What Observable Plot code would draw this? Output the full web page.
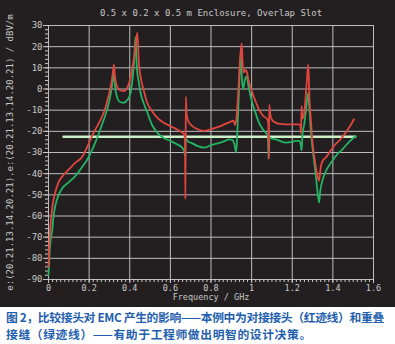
<!DOCTYPE html>
<html><head><meta charset="utf-8">
<script src="https://cdn.jsdelivr.net/npm/d3@7"></script>
<script src="https://cdn.jsdelivr.net/npm/@observablehq/plot@0.6"></script>
<style>
body{margin:0;background:#fff;}
#chart{width:395px;background:#231f20;line-height:0;}
#cap{font-family:"Noto Sans CJK SC";font-weight:bold;color:#1f5fae;font-size:11.8px;line-height:17px;padding:1px 0 0 6px;white-space:nowrap;}
#cap1{letter-spacing:-0.35px;}
#cap2{letter-spacing:0.6px;}
</style></head><body>
<div id="chart"></div>
<div id="cap"><div id="cap1"></div><div id="cap2"></div></div>
<script>
const title = "0.5 x 0.2 x 0.5 m Enclosure, Overlap Slot";
const xLabel = "Frequency / GHz";
const yLabel = "e:(20.21.13.14.20.21).e:(20.21.13.14.20.21) / dBV/m";
const captionLine1 = "图 2，比较接头对 EMC 产生的影响——本例中为对接接头（红迹线）和重叠";
const captionLine2 = "接缝（绿迹线）——有助于工程师做出明智的设计决策。";

const xTicks = [0, 0.2, 0.4, 0.6, 0.8, 1, 1.2, 1.4, 1.6];
const yTicks = [-90, -80, -70, -60, -50, -40, -30, -20, -10, 0, 10, 20, 30];
const xMinor = d3.range(0, 81).map(i => i / 50);
const yMinor = d3.range(-90, 31, 2);

const redFreq = [0,0.003,0.007,0.012,0.02,0.03,0.05,0.075,0.10,0.13,0.166,0.19,0.215,0.24,0.264,0.28,0.296,0.308,0.316,0.322,0.327,0.335,0.35,0.371,0.39,0.405,0.418,0.428,0.437,0.445,0.453,0.47,0.486,0.51,0.535,0.565,0.60,0.63,0.658,0.668,0.672,0.674,0.676,0.680,0.69,0.708,0.735,0.764,0.80,0.823,0.847,0.87,0.895,0.911,0.918,0.925,0.935,0.944,0.951,0.956,0.962,0.968,0.975,0.985,1.003,1.02,1.036,1.055,1.077,1.082,1.084,1.087,1.092,1.10,1.118,1.14,1.167,1.20,1.233,1.24,1.243,1.246,1.25,1.258,1.265,1.272,1.279,1.285,1.292,1.299,1.31,1.322,1.332,1.34,1.35,1.365,1.39,1.414,1.44,1.463,1.485,1.504];
const redLevel = [-84,-75,-68,-62,-55,-50,-44,-40.5,-38,-35,-32,-27.5,-22,-17.5,-13,-9,-3,2,7,11.5,6,2,-0.5,-1,1,6,13,20,26.5,12,6,-1,-6.5,-10.5,-13.5,-15.8,-17.5,-19,-20.6,-21.5,-24,-52,-3.6,-12,-15.5,-17.5,-19,-19.8,-19,-18.3,-17.5,-16.5,-15.5,-15,-17,-14,0,15,21.5,12,7.7,9,8.5,4,-1.7,-6,-9.6,-12.5,-14.3,-16,-33,-7.5,-12,-14.5,-15.9,-16.5,-16.7,-16.7,-16.7,-17.5,-21,-8,-14,-12,-5,4,11.6,-5,-15,-24.5,-33,-40,-43.4,-37,-34,-32.4,-29,-26,-23.5,-20.6,-17.5,-14.3];

const greenFreq = [0,0.005,0.012,0.018,0.025,0.034,0.05,0.067,0.10,0.133,0.165,0.199,0.225,0.248,0.27,0.289,0.305,0.315,0.322,0.327,0.335,0.35,0.37,0.39,0.404,0.415,0.422,0.428,0.435,0.445,0.453,0.47,0.486,0.51,0.535,0.565,0.60,0.63,0.658,0.668,0.672,0.675,0.68,0.69,0.70,0.735,0.765,0.80,0.847,0.87,0.887,0.905,0.915,0.924,0.93,0.938,0.946,0.952,0.958,0.966,0.975,0.985,1.003,1.02,1.036,1.055,1.069,1.08,1.084,1.088,1.10,1.118,1.167,1.20,1.217,1.235,1.243,1.246,1.25,1.26,1.27,1.278,1.285,1.29,1.30,1.315,1.325,1.332,1.338,1.348,1.37,1.397,1.42,1.447,1.48,1.512];
const greenLevel = [-88,-78,-70,-67,-60,-55,-50,-47,-44,-41,-37,-32,-26.5,-21,-15,-9.6,-3,3,8,2,-3,-6,-6.5,-5,-1.7,6,14,24.5,10,3,-1.7,-7,-11,-17,-20.6,-23,-24.5,-26,-27.7,-29.5,-31.5,-23,-24,-25,-25.3,-27,-27.7,-26.5,-25.3,-24.5,-23.8,-24,-26,-30,-20,0,17,5,0,4,6,1,-6.5,-11.5,-15.9,-19,-20.6,-22,-33,-23,-23.5,-23.8,-25.3,-25,-24.5,-24.5,-27,-29,-22,-16,-8,-2,-10,-18,-28,-40,-49,-53.6,-48,-43.4,-38,-34,-31,-28.5,-25,-22.2];

const flatFreq = [0.074, 1.51];
const flatLevel = [-22.6, -22.6];

const red = redFreq.map((f, i) => ({f, v: redLevel[i]}));
const green = greenFreq.map((f, i) => ({f, v: greenLevel[i]}));
const flat = flatFreq.map((f, i) => ({f, v: flatLevel[i]}));

const gridColor = "#bdbdbd";
const plot = Plot.plot({
  width: 395, height: 307,
  marginLeft: 48, marginRight: 22, marginTop: 25, marginBottom: 28,
  style: {background: "#231f20", color: "#c8c8c8", fontFamily: "DejaVu Sans Mono", fontSize: "9px"},
  x: {domain: [0, 1.6]},
  y: {domain: [-90, 30]},
  marks: [
    Plot.ruleX(xTicks, {stroke: gridColor, strokeWidth: 1}),
    Plot.ruleY(yTicks, {stroke: gridColor, strokeWidth: 1}),
    Plot.axisY(yMinor, {tickSize: 3, tickFormat: () => "", label: null}),
    Plot.axisY(yTicks, {tickSize: 5, tickPadding: 1, tickFormat: d => String(d), label: null}),
    Plot.axisX(xMinor, {tickSize: 3, tickFormat: () => "", label: null}),
    Plot.axisX(xTicks, {tickSize: 4, tickPadding: 1, fontSize: 8.5, tickFormat: d => String(d), label: null}),
    Plot.line(flat, {x: "f", y: "v", stroke: "#cdf0c8", strokeWidth: 2.5}),
    Plot.line(green, {x: "f", y: "v", stroke: "#22b464", strokeWidth: 1.8, curve: "monotone-x"}),
    Plot.line(red, {x: "f", y: "v", stroke: "#e0463d", strokeWidth: 1.8, curve: "monotone-x"}),
    Plot.text([title], {text: d => d, frameAnchor: "top", dy: -16, fontSize: 9}),
    Plot.text([xLabel], {text: d => d, frameAnchor: "bottom", dy: 20.5, fontSize: 8.5}),
    Plot.text([yLabel], {text: d => d, frameAnchor: "left", textAnchor: "middle", dx: -38, rotate: -90, fontSize: 9})
  ]
});
document.getElementById("chart").appendChild(plot);
document.getElementById("cap1").textContent = captionLine1;
document.getElementById("cap2").textContent = captionLine2;
</script>
</body></html>
